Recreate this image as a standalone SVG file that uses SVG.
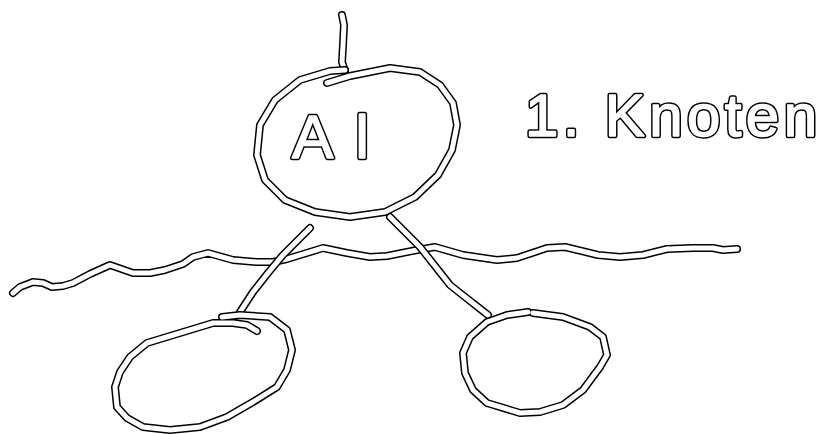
<svg xmlns="http://www.w3.org/2000/svg" xmlns:xlink="http://www.w3.org/1999/xlink" width="823" height="434" viewBox="0 0 823 434">
<style>
.o{fill:none;stroke:#000;stroke-width:8;stroke-linecap:round;stroke-linejoin:round}
.i{fill:none;stroke:#fff;stroke-width:5;stroke-linecap:round;stroke-linejoin:round}
.to{font-family:"Liberation Sans",Arial,sans-serif;fill:#000;stroke:#000;stroke-width:4.5;stroke-linejoin:round}
.ti{font-family:"Liberation Sans",Arial,sans-serif;fill:#fff;stroke:#fff;stroke-width:1.5;stroke-linejoin:round}
</style>
<defs>
<path id="pTop" d="M342,15 L344,25 L343,45 L342,62 L345,71"/>
<path id="pBig" d="M327,83 L350,76 L390,68 L420,72 L440,85 L453,103 L457,125 L452,150 L438,175 L415,197 L385,212 L350,217 L315,212 L285,200 L265,180 L257,155 L260,125 L275,100 L300,80 L330,71 L345,70"/>
<path id="pWave" d="M13,293 L20,287 L33,282 L43,283 L52,287 L63,286 L73,283 L90,274 L110,265 L133,273 L150,273 L165,270 L183,264 L193,257 L208,253 L233,260 L257,262 L273,262 L287,259 L323,248 L347,253 L370,257 L387,256 L417,250 L435,247 L463,255 L497,260 L517,258 L547,248 L565,247 L598,255 L620,257 L643,255 L667,249 L693,248 L713,248 L723,250 L737,249"/>
<path id="pL" d="M310,228 L296,242 L283,255 L268,273 L253,292 L240,312"/>
<path id="pR" d="M390,217 L405,232 L420,247 L435,266 L450,285 L460,293 L488,315"/>
<path id="pLE" d="M222,317 L240,315 L270,317 L287,330 L292,350 L287,370 L277,387 L253,402 L227,417 L200,427 L170,430 L143,427 L127,418 L117,407 L115,387 L120,372 L130,357 L147,343 L180,333 L213,323 L233,323 L247,325 L257,331"/>
<path id="pRE" d="M528,312 L507,315 L487,322 L470,337 L463,353 L465,373 L473,390 L487,403 L520,413 L540,412 L563,405 L583,390 L600,367 L607,355 L603,337 L590,327 L563,317 L533,313"/>
</defs>
<g id="connectors">
<use xlink:href="#pTop" class="o"/><use xlink:href="#pTop" class="i"/>
<use xlink:href="#pWave" class="o"/><use xlink:href="#pWave" class="i"/>
<use xlink:href="#pL" class="o"/><use xlink:href="#pL" class="i"/>
<use xlink:href="#pR" class="o"/><use xlink:href="#pR" class="i"/>
</g>
<g id="node-al">
<use xlink:href="#pBig" class="o"/><use xlink:href="#pBig" class="i"/>
<text class="to" x="292" y="158" font-size="62" letter-spacing="22">Al</text>
<text class="ti" x="292" y="158" font-size="62" letter-spacing="22">Al</text>
</g>
<g id="node-left">
<use xlink:href="#pLE" class="o"/><use xlink:href="#pLE" class="i"/>
</g>
<g id="node-right">
<use xlink:href="#pRE" class="o"/><use xlink:href="#pRE" class="i"/>
</g>
<g id="label">
<text class="to" x="525" y="136" font-size="60" textLength="292" lengthAdjust="spacing">1. Knoten</text>
<text class="ti" x="525" y="136" font-size="60" textLength="292" lengthAdjust="spacing">1. Knoten</text>
</g>
</svg>
